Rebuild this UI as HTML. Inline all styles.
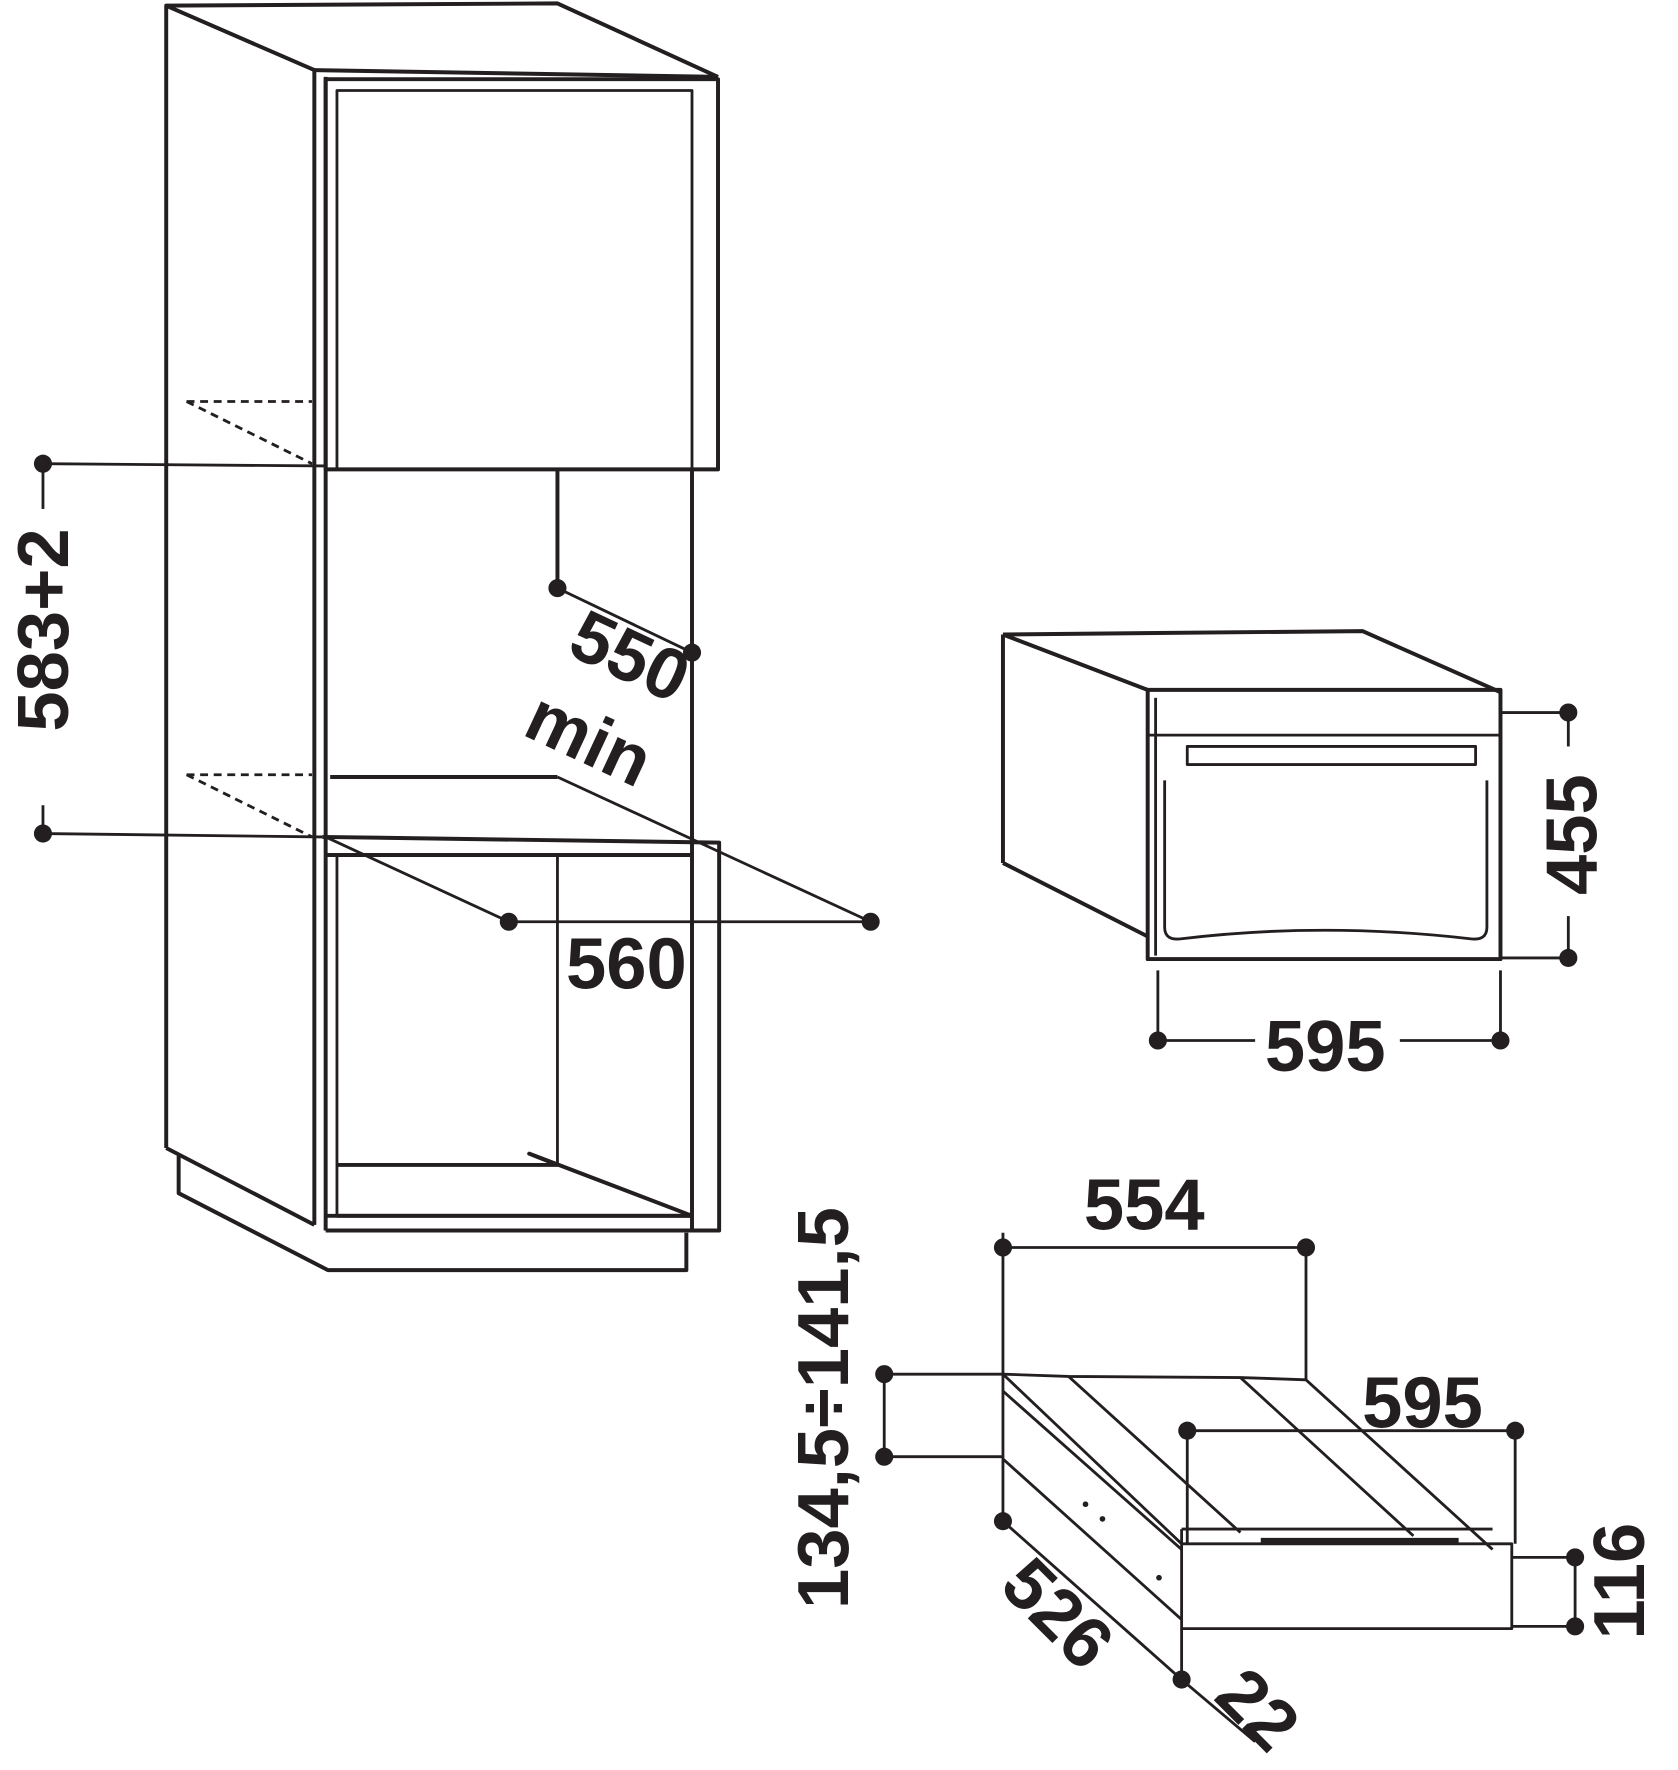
<!DOCTYPE html>
<html><head><style>
html,body{margin:0;padding:0;background:#fff;}
svg{display:block;}
text{font-family:"Liberation Sans",sans-serif;font-weight:bold;font-size:64px;fill:#231f20;}
</style></head><body>
<svg width="1678" height="1770" viewBox="0 0 1484 1565" preserveAspectRatio="none">
<g fill="none" stroke="#231f20" stroke-width="3.5" stroke-linejoin="round">
<polyline points="147,1015 147,5 493,3 635,68"/>
<line x1="147" y1="5" x2="278" y2="62"/>
<line x1="278" y1="62" x2="635" y2="68"/>
<line x1="147" y1="1015" x2="278" y2="1083"/>
<polyline points="158,1022 158,1055 290,1123 607,1123 607,1090"/>
<line x1="278" y1="62" x2="278" y2="1083"/>
<line x1="288" y1="68" x2="288" y2="1088"/>
<rect x="288" y="70" width="347" height="345"/>
<polyline points="298,415 298,80 612,80 612,415" stroke-width="2.5"/>
<line x1="612" y1="415" x2="612" y2="1088"/>
<line x1="493" y1="415" x2="493" y2="520"/>
<line x1="292" y1="687" x2="493" y2="687"/>
<line x1="493" y1="687" x2="770" y2="815" stroke-width="2.5"/>
<line x1="493" y1="520" x2="612" y2="577" stroke-width="2.5"/>
<polyline points="285,740 636,745 636,1088 288,1088"/>
<line x1="288" y1="756" x2="612" y2="756"/>
<line x1="298" y1="756" x2="298" y2="1075" stroke-width="2.5"/>
<line x1="493" y1="756" x2="493" y2="1030" stroke-width="2.5"/>
<polyline points="298,1030 493,1030 468,1020 612,1075 298,1075"/>
<line x1="288" y1="1075" x2="612" y2="1075"/>
<line x1="288" y1="740" x2="450" y2="815" stroke-width="2.5"/>
<line x1="450" y1="815" x2="770" y2="815" stroke-width="2.5"/>
<g stroke-dasharray="7,5" stroke-width="2.5">
<line x1="165" y1="355" x2="276" y2="355"/>
<line x1="165" y1="355" x2="276" y2="410"/>
<line x1="165" y1="685" x2="276" y2="685"/>
<line x1="165" y1="685" x2="276" y2="740"/>
</g>
<line x1="38" y1="410" x2="288" y2="412" stroke-width="2.5"/>
<line x1="38" y1="737" x2="285" y2="740" stroke-width="2.5"/>
<line x1="38" y1="410" x2="38" y2="450" stroke-width="2.5"/>
<line x1="38" y1="712" x2="38" y2="737" stroke-width="2.5"/>

<polyline points="887,561 1205,558 1327,612"/>
<line x1="887" y1="561" x2="1015" y2="610"/>
<line x1="887" y1="561" x2="887" y2="763"/>
<line x1="887" y1="763" x2="1015" y2="828"/>
<rect x="1015" y="610" width="312" height="238"/>
<line x1="1022" y1="617" x2="1022" y2="845" stroke-width="2.5"/>
<line x1="1015" y1="650" x2="1327" y2="650" stroke-width="2.5"/>
<rect x="1050" y="660" width="255" height="16" stroke-width="2.5"/>
<path d="M1030,690 L1030,820 Q1030,832 1045,830 Q1170,815 1300,830 Q1315,832 1315,820 L1315,690" stroke-width="2.5"/>
<line x1="1327" y1="630" x2="1387" y2="630" stroke-width="2.5"/>
<line x1="1327" y1="847" x2="1387" y2="847" stroke-width="2.5"/>
<line x1="1387" y1="630" x2="1387" y2="660" stroke-width="2.5"/>
<line x1="1387" y1="810" x2="1387" y2="847" stroke-width="2.5"/>
<line x1="1024" y1="858" x2="1024" y2="920" stroke-width="2.5"/>
<line x1="1327" y1="858" x2="1327" y2="920" stroke-width="2.5"/>
<line x1="1024" y1="920" x2="1110" y2="920" stroke-width="2.5"/>
<line x1="1238" y1="920" x2="1327" y2="920" stroke-width="2.5"/>

<line x1="887" y1="1103" x2="1155" y2="1103" stroke-width="2.5"/>
<line x1="887" y1="1090" x2="887" y2="1345" stroke-width="2.5"/>
<line x1="1155" y1="1103" x2="1155" y2="1220" stroke-width="2.5"/>
<line x1="782" y1="1215" x2="887" y2="1215" stroke-width="2.5"/>
<line x1="782" y1="1288" x2="887" y2="1288" stroke-width="2.5"/>
<line x1="782" y1="1215" x2="782" y2="1288" stroke-width="2.5"/>
<polyline points="887,1215 945,1217 1097,1218 1155,1220 1320,1370" stroke-width="2.5"/>
<line x1="887" y1="1215" x2="1045" y2="1365" stroke-width="2.5"/>
<line x1="945" y1="1217" x2="1097" y2="1355" stroke-width="2.5"/>
<line x1="1097" y1="1218" x2="1250" y2="1358" stroke-width="2.5"/>
<line x1="887" y1="1230" x2="1045" y2="1370" stroke-width="2.5"/>
<line x1="887" y1="1290" x2="1045" y2="1432" stroke-width="2.5"/>
<rect x="1045" y="1365" width="292" height="75" stroke-width="2.5"/>
<line x1="1045" y1="1352" x2="1320" y2="1352" stroke-width="2.5"/>
<line x1="1045" y1="1365" x2="1045" y2="1352" stroke-width="2.5"/>
<line x1="1115" y1="1362" x2="1290" y2="1362" stroke-width="4.5"/>
<line x1="1050" y1="1265" x2="1340" y2="1265" stroke-width="2.5"/>
<line x1="1050" y1="1265" x2="1050" y2="1365" stroke-width="2.5"/>
<line x1="1340" y1="1265" x2="1340" y2="1365" stroke-width="2.5"/>
<line x1="1337" y1="1377" x2="1393" y2="1377" stroke-width="2.5"/>
<line x1="1337" y1="1438" x2="1393" y2="1438" stroke-width="2.5"/>
<line x1="1393" y1="1377" x2="1393" y2="1438" stroke-width="2.5"/>
<line x1="887" y1="1345" x2="1045" y2="1485" stroke-width="2.5"/>
<line x1="1045" y1="1440" x2="1045" y2="1490" stroke-width="2.5"/>
<line x1="1045" y1="1485" x2="1110" y2="1540" stroke-width="2.5"/>
</g>
<g fill="#231f20">
<circle cx="38" cy="410" r="8"/><circle cx="38" cy="737" r="8"/>
<circle cx="493" cy="520" r="8"/><circle cx="612" cy="577" r="8"/>
<circle cx="450" cy="815" r="8"/><circle cx="770" cy="815" r="8"/>
<circle cx="1387" cy="630" r="8"/><circle cx="1387" cy="847" r="8"/>
<circle cx="1024" cy="920" r="8"/><circle cx="1327" cy="920" r="8"/>
<circle cx="887" cy="1103" r="8"/><circle cx="1155" cy="1103" r="8"/>
<circle cx="782" cy="1215" r="8"/><circle cx="782" cy="1288" r="8"/>
<circle cx="1050" cy="1265" r="8"/><circle cx="1340" cy="1265" r="8"/>
<circle cx="1393" cy="1377" r="8"/><circle cx="1393" cy="1438" r="8"/>
<circle cx="887" cy="1345" r="8"/><circle cx="1045" cy="1485" r="8"/>
<circle cx="960" cy="1330" r="2.5"/><circle cx="975" cy="1343" r="2.5"/><circle cx="1025" cy="1395" r="2.5"/>
</g>
<text transform="translate(60,557) rotate(-90)" text-anchor="middle">583+2</text>
<text transform="translate(548,600) rotate(25)" text-anchor="middle">550</text>
<text transform="translate(512,673) rotate(25)" text-anchor="middle">min</text>
<text x="554" y="874" text-anchor="middle">560</text>
<text transform="translate(1412,738) rotate(-90)" text-anchor="middle">455</text>
<text x="1172" y="947" text-anchor="middle">595</text>
<text x="1012" y="1087" text-anchor="middle">554</text>
<text x="1258" y="1262" text-anchor="middle">595</text>
<text transform="translate(750,1245) rotate(-90)" text-anchor="middle">134,5÷141,5</text>
<text transform="translate(1454,1398) rotate(-90)" text-anchor="middle">116</text>
<text transform="translate(920,1442) rotate(45)" text-anchor="middle">526</text>
<text transform="translate(1097,1527) rotate(45)" text-anchor="middle">22</text>
</svg>
</body></html>
